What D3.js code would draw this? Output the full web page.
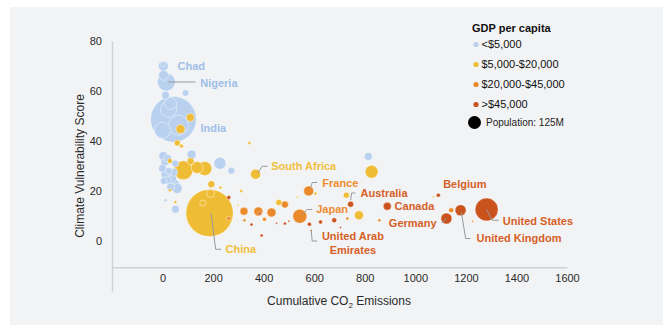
<!DOCTYPE html>
<html>
<head>
<meta charset="utf-8">
<title>Climate vulnerability vs cumulative emissions</title>
<script src="https://cdn.jsdelivr.net/npm/d3@7"></script>
<style>
  body { margin: 0; background: #fff; }
  text { font-family: "Liberation Sans", Arial, sans-serif; }
</style>
</head>
<body>
<script>

// income groups and their colours
var groups = ["<$5,000", "$5,000-$20,000", "$20,000-$45,000", ">$45,000"];
var groupColors = ["#b9d1ee", "#efbc35", "#ea8a2a", "#c9521d"];
var labelColors = ["#9fbfe8", "#f0bf3c", "#ee8b2e", "#d55f27"];

// [cumulative emissions, vulnerability score, population (M)]
var lowIncome = [
  [3, 70, 74], [2, 70.7, 18], [4, 66.3, 74], [15, 63.6, 240], [91, 59.2, 32], [12, 58.3, 47],
  [43, 48.7, 1550], [24, 52.7, 190], [0, 44.3, 190], [63, 46.3, 296], [32, 55, 107],
  [3, 34, 60], [9, 31.6, 47], [0, 29, 47], [12, 26.6, 60], [19, 24.3, 47], [45, 22.3, 107],
  [58, 21, 74], [32, 21.6, 47], [44, 27.5, 47], [115, 34.6, 60], [227, 31.1, 107],
  [272, 28.1, 36], [12, 16.3, 7], [51, 12.7, 47], [814, 33.8, 47],
  [20, 33, 47], [25, 28, 36], [5, 24, 36], [38, 25, 60], [50, 31, 36]
];
var lowerMiddle = [
  [110, 49.4, 47], [71, 44.8, 60], [58, 39.2, 27], [75, 38, 12], [344, 39.2, 7], [29, 32, 18],
  [82, 28.3, 267], [111, 31.9, 36], [137, 29.4, 107], [167, 29, 145], [193, 22.7, 36],
  [229, 21.4, 7], [186, 11.2, 1650], [190, 19, 47], [159, 15.2, 27], [311, 20, 7], [299, 14.3, 3],
  [368, 26.7, 74], [460, 15.4, 27], [533, 17.6, 3], [605, 19, 7], [727, 18.3, 27], [777, 10.3, 60],
  [827, 27.7, 125], [1071, 17.6, 3], [29, 20.3, 7], [51, 15.6, 7]
];
var upperMiddle = [
  [322, 11.9, 47], [379, 11.8, 60], [431, 11.4, 60], [484, 14.6, 36], [324, 8.3, 7], [403, 8.7, 12],
  [262, 9, 12], [543, 9.9, 145], [578, 20, 74], [731, 9, 7], [858, 8.3, 7], [1142, 12.3, 18], [1227, 7.9, 3]
];
var highIncome = [
  [262, 17.4, 12], [384, 11, 7], [352, 6.6, 7], [392, 2.2, 7], [451, 7.1, 3], [484, 7, 7], [500, 7.9, 3],
  [581, 6.7, 12], [625, 7.6, 12], [679, 8.3, 18], [704, 5.4, 3], [588, 4.2, 3],
  [744, 14.7, 27], [889, 13.9, 47], [1091, 18.3, 12], [1123, 9, 90], [1179, 12.3, 90], [1282, 12.6, 390]
];

// country labels: text, income group, label anchor (data units), text-anchor, leader line points
var annotations = [
  { name: "Chad", g: 0, at: [59, 69.9], anchor: "start", line: [] },
  { name: "Nigeria", g: 0, at: [149, 63.1], anchor: "start", line: [[23, 63.6], [130, 63.6]] },
  { name: "India", g: 0, at: [150, 45.1], anchor: "start", line: [] },
  { name: "South Africa", g: 1, at: [430, 29.9], anchor: "start", line: [[377, 27.2], [394, 29.9], [416, 29.9]] },
  { name: "China", g: 1, at: [249, -3.3], anchor: "start", line: [[192, 11], [210, -3.3], [232, -3.3]] },
  { name: "France", g: 2, at: [632, 23.1], anchor: "start", line: [[585, 21], [592, 23.4], [612, 23.4]] },
  { name: "Japan", g: 2, at: [608, 12.7], anchor: "start", line: [[553, 10.6], [572, 12.6], [592, 12.6]] },
  { name: "Australia", g: 3, at: [783, 19.1], anchor: "start", line: [[744, 16.3], [748, 19.2], [763, 19.2]] },
  { name: "Canada", g: 3, at: [918, 13.9], anchor: "start", line: [] },
  { name: "Belgium", g: 3, at: [1110, 22.7], anchor: "start", line: [] },
  { name: "Germany", g: 3, at: [1084, 7.1], anchor: "end", line: [[1123, 9], [1105, 7.3]] },
  { name: "United Kingdom", g: 3, at: [1242, 1.1], anchor: "start", line: [[1182, 11.6], [1199, 1], [1218, 1]] },
  { name: "United States", g: 3, at: [1346, 8], anchor: "start", line: [[1282, 12.6], [1304, 8.3], [1330, 8.3]] },
  { name: "United Arab|Emirates", g: 3, at: [753, 1.9], anchor: "middle", line: [[588, 4.3], [592, 0], [612, 0]] }
];

var xTicks = [0, 200, 400, 600, 800, 1000, 1200, 1400, 1600];
var yTicks = [0, 20, 40, 60, 80];
var legendPop = 125;

var width = 667, height = 325;

var svg = d3.select("body").append("svg")
    .attr("width", width)
    .attr("height", height);

svg.append("rect")
    .attr("x", 10).attr("y", 7)
    .attr("width", 653).attr("height", 318)
    .attr("fill", "#f2f3f5");

var x = d3.scaleLinear().domain([-200, 1600]).range([112, 567]);
var y = d3.scaleLinear().domain([-20, 80]).range([291, 41]);
var r = d3.scaleSqrt().domain([0, 125]).range([0, 6.5]);

// axes
var xAxis = svg.append("g")
    .attr("transform", "translate(0," + y(-10.5) + ")")
    .call(d3.axisBottom(x).tickValues(xTicks).tickFormat(d3.format("d")).tickSize(0).tickPadding(7));
var yAxis = svg.append("g")
    .attr("transform", "translate(" + x(-200) + ",0)")
    .call(d3.axisLeft(y).tickValues(yTicks).tickFormat(d3.format("d")).tickSize(0).tickPadding(10));

[xAxis, yAxis].forEach(function(a) {
  a.select(".domain").attr("stroke", "#cfd1d4").attr("stroke-width", 1.5);
  a.selectAll("text").attr("fill", "#2a2a2a").style("font-size", "11px");
});

svg.append("text")
    .attr("transform", "translate(84,166) rotate(-90)")
    .attr("text-anchor", "middle")
    .attr("fill", "#2a2a2a")
    .style("font-size", "12px")
    .text("Climate Vulnerability Score");

var xt = svg.append("text")
    .attr("x", 339).attr("y", 305)
    .attr("text-anchor", "middle")
    .attr("fill", "#2a2a2a")
    .style("font-size", "12px");
xt.append("tspan").text("Cumulative CO");
xt.append("tspan").attr("dy", 3).style("font-size", "8px").text("2");
xt.append("tspan").attr("dy", -3).text(" Emissions");

// bubbles
var points = [];
[lowIncome, lowerMiddle, upperMiddle, highIncome].forEach(function(arr, gi) {
  arr.forEach(function(d) { points.push({ x: d[0], y: d[1], pop: d[2], g: gi }); });
});
points.sort(function(a, b) { return b.pop - a.pop; });

svg.append("g").selectAll("circle")
    .data(points)
    .enter()
    .append("circle")
    .attr("cx", function(d) { return x(d.x); })
    .attr("cy", function(d) { return y(d.y); })
    .attr("r", function(d) { return Math.max(r(d.pop), 1); })
    .attr("fill", function(d) { return groupColors[d.g]; })
    .attr("stroke", "#ffffff")
    .attr("stroke-opacity", 0.55)
    .attr("stroke-width", 0.8);

// leader lines and labels
var line = d3.line().x(function(d) { return x(d[0]); }).y(function(d) { return y(d[1]); });

svg.append("g").selectAll("path")
    .data(annotations.filter(function(a) { return a.line.length; }))
    .enter()
    .append("path")
    .attr("d", function(d) { return line(d.line); })
    .attr("fill", "none")
    .attr("stroke", "#9a9a9a")
    .attr("stroke-width", 1);

annotations.forEach(function(a) {
  var parts = a.name.split("|");
  var t = svg.append("text")
      .attr("x", x(a.at[0]))
      .attr("y", y(a.at[1]))
      .attr("text-anchor", a.anchor)
      .attr("fill", labelColors[a.g])
      .style("font-size", "11px")
      .style("font-weight", "bold");
  parts.forEach(function(p, i) {
    t.append("tspan")
        .attr("x", x(a.at[0]))
        .attr("dy", i == 0 ? "0.35em" : "1.25em")
        .text(p);
  });
});

// legend
var legend = svg.append("g");
legend.append("text")
    .attr("x", 472).attr("y", 32)
    .attr("fill", "#111")
    .style("font-size", "11px")
    .style("font-weight", "bold")
    .text("GDP per capita");

groups.forEach(function(g, i) {
  var cy = 44.5 + i * 20;
  legend.append("circle")
      .attr("cx", 476).attr("cy", cy).attr("r", 2.6)
      .attr("fill", groupColors[i]);
  legend.append("text")
      .attr("x", 481.5).attr("y", cy)
      .attr("dy", "0.35em")
      .attr("fill", "#111")
      .style("font-size", "11px")
      .text(g);
});

legend.append("circle")
    .attr("cx", 474.5).attr("cy", 122.5).attr("r", r(legendPop))
    .attr("fill", "#000");
legend.append("text")
    .attr("x", 486).attr("y", 122.5)
    .attr("dy", "0.35em")
    .attr("fill", "#222")
    .style("font-size", "10px")
    .text("Population: " + legendPop + "M");

</script>
</body>
</html>
